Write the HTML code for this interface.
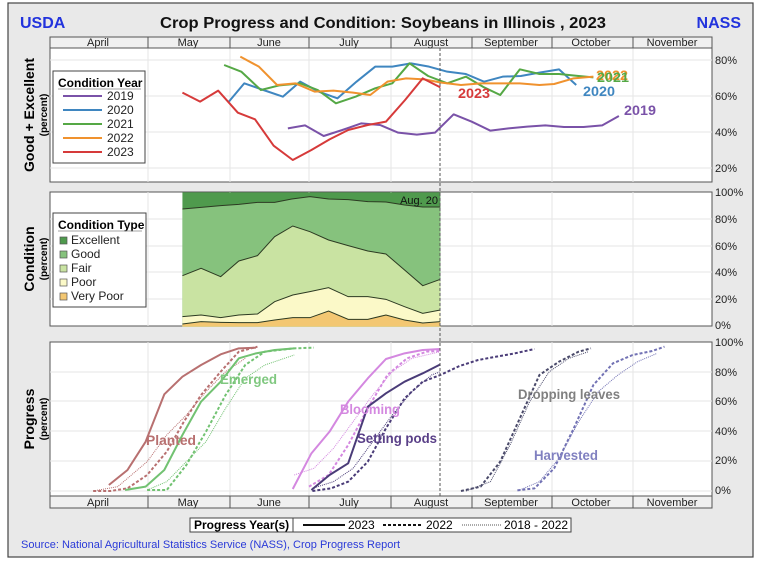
<!DOCTYPE html>
<html><head><meta charset="utf-8"><style>
html,body{margin:0;padding:0;background:#fff;}
svg{display:block;font-family:"Liberation Sans Narrow","Liberation Sans",Arial,sans-serif;}
</style></head><body>
<svg width="768" height="568" viewBox="0 0 768 568" xmlns="http://www.w3.org/2000/svg">
<rect x="8" y="3" width="745" height="554" fill="#e9e9e9" stroke="#444" stroke-width="1.2"/>
<text x="20" y="28" font-family="Liberation Sans" font-weight="bold" font-size="16" fill="#2233dd">USDA</text>
<text x="741" y="28" text-anchor="end" font-family="Liberation Sans" font-weight="bold" font-size="16" fill="#2233dd">NASS</text>
<text x="383" y="28" text-anchor="middle" font-family="Liberation Sans" font-weight="bold" font-size="16" fill="#111" textLength="446" lengthAdjust="spacingAndGlyphs">Crop Progress and Condition: Soybeans in Illinois , 2023</text>

<!-- top panel -->
<rect x="50" y="48" width="662" height="134" fill="#fff" stroke="#555"/>
<g stroke="#e6e6e6" stroke-width="1">
<line x1="50" y1="60" x2="712" y2="60"/><line x1="50" y1="96" x2="712" y2="96"/><line x1="50" y1="132" x2="712" y2="132"/><line x1="50" y1="168" x2="712" y2="168"/>
<line x1="148" y1="48" x2="148" y2="182"/><line x1="230" y1="48" x2="230" y2="182"/><line x1="309" y1="48" x2="309" y2="182"/><line x1="391" y1="48" x2="391" y2="182"/><line x1="472" y1="48" x2="472" y2="182"/><line x1="552" y1="48" x2="552" y2="182"/><line x1="633" y1="48" x2="633" y2="182"/>
</g>
<rect x="50" y="37" width="662" height="11" fill="#f0f0f0" stroke="#555"/>
<g stroke="#555"><line x1="148" y1="37" x2="148" y2="48"/><line x1="230" y1="37" x2="230" y2="48"/><line x1="309" y1="37" x2="309" y2="48"/><line x1="391" y1="37" x2="391" y2="48"/><line x1="472" y1="37" x2="472" y2="48"/><line x1="552" y1="37" x2="552" y2="48"/><line x1="633" y1="37" x2="633" y2="48"/></g>
<g font-size="11" fill="#222" text-anchor="middle">
<text x="98" y="46">April</text><text x="188" y="46">May</text><text x="269" y="46">June</text><text x="349" y="46">July</text><text x="431" y="46">August</text><text x="511" y="46">September</text><text x="591" y="46">October</text><text x="672" y="46">November</text>
</g>
<g font-size="11" fill="#222">
<text x="715" y="64">80%</text><text x="715" y="100">60%</text><text x="715" y="136">40%</text><text x="715" y="172">20%</text>
<text x="715" y="196">100%</text><text x="715" y="223">80%</text><text x="715" y="250">60%</text><text x="715" y="276">40%</text><text x="715" y="303">20%</text><text x="715" y="329">0%</text>
<text x="715" y="346">100%</text><text x="715" y="376">80%</text><text x="715" y="405">60%</text><text x="715" y="435">40%</text><text x="715" y="464">20%</text><text x="715" y="494">0%</text>
</g>
<g transform="scale(0.4904,0.33333)" fill="none" stroke-width="2" stroke-linejoin="round">
<polyline vector-effect="non-scaling-stroke" stroke="#7a52a8" points="587,385 622,376 660,408 698,390 737,370 775,375 812,398 850,404 887,398 925,343 962,365 1000,392 1037,385 1075,380 1112,376 1150,381 1190,381 1228,376 1262,348"/>
<polyline vector-effect="non-scaling-stroke" stroke="#3f86c0" points="465,308 498,250 537,270 577,290 612,245 650,275 688,295 727,245 765,200 800,200 838,190 875,200 912,215 950,222 987,245 1025,230 1062,228 1100,218 1140,208 1175,255"/>
<polyline vector-effect="non-scaling-stroke" stroke="#55a845" points="457,195 492,215 532,270 570,256 612,250 648,270 685,310 725,290 765,265 800,250 835,190 873,228 912,250 950,230 987,262 1020,285 1060,208 1100,222 1140,222 1180,228 1210,232"/>
<polyline vector-effect="non-scaling-stroke" stroke="#f0922e" points="490,170 528,200 565,255 602,250 642,275 680,272 720,278 755,285 790,245 828,235 865,238 900,248 940,255 980,250 1020,250 1060,250 1100,255 1130,252 1170,235 1210,230"/>
<polyline vector-effect="non-scaling-stroke" stroke="#d63a3a" points="372,278 408,305 445,272 485,338 520,358 558,437 597,480 635,450 672,418 710,390 750,375 787,365 826,300 862,235 898,262"/>
</g>
<g font-weight="bold" font-size="14">
<text x="458" y="98" fill="#d63a3a" textLength="32" lengthAdjust="spacingAndGlyphs">2023</text>
<text x="583" y="96" fill="#3f86c0" textLength="32" lengthAdjust="spacingAndGlyphs">2020</text>
<text x="624" y="115" fill="#7a52a8" textLength="32" lengthAdjust="spacingAndGlyphs">2019</text>
<text x="596" y="80" fill="#f0922e" textLength="32" lengthAdjust="spacingAndGlyphs">2022</text>
<text x="597" y="82" fill="#55a845" textLength="32" lengthAdjust="spacingAndGlyphs">2021</text>
</g>
<rect x="53" y="71" width="92" height="92" fill="#fff" stroke="#444"/>
<text x="58" y="87" font-size="12" font-weight="bold">Condition Year</text>
<line x1="58" y1="89" x2="141" y2="89" stroke="#888" stroke-width="0.7"/>
<g stroke-width="2"><line x1="63" y1="96" x2="102" y2="96" stroke="#7a52a8"/><line x1="63" y1="110" x2="102" y2="110" stroke="#3f86c0"/><line x1="63" y1="124" x2="102" y2="124" stroke="#55a845"/><line x1="63" y1="138" x2="102" y2="138" stroke="#f0922e"/><line x1="63" y1="152" x2="102" y2="152" stroke="#d63a3a"/></g>
<g font-size="12" fill="#222"><text x="107" y="100">2019</text><text x="107" y="114">2020</text><text x="107" y="128">2021</text><text x="107" y="142">2022</text><text x="107" y="156">2023</text></g>
<text transform="translate(34,115) rotate(-90)" text-anchor="middle" font-family="Liberation Sans" font-weight="bold" font-size="14">Good + Excellent</text>
<text transform="translate(47,115) rotate(-90)" text-anchor="middle" font-family="Liberation Sans" font-weight="bold" font-size="10">(percent)</text>

<!-- middle panel -->
<rect x="50" y="192" width="662" height="134" fill="#fff" stroke="#555"/>
<g stroke="#e6e6e6"><line x1="50" y1="219" x2="712" y2="219"/><line x1="50" y1="246" x2="712" y2="246"/><line x1="50" y1="272" x2="712" y2="272"/><line x1="50" y1="299" x2="712" y2="299"/>
<line x1="148" y1="192" x2="148" y2="326"/><line x1="230" y1="192" x2="230" y2="326"/><line x1="309" y1="192" x2="309" y2="326"/><line x1="391" y1="192" x2="391" y2="326"/><line x1="472" y1="192" x2="472" y2="326"/><line x1="552" y1="192" x2="552" y2="326"/><line x1="633" y1="192" x2="633" y2="326"/></g>
<g transform="translate(0,185) scale(0.4904,0.33333)">
<rect x="372" y="22" width="526" height="403" fill="#4f9a4d"/>
<polygon fill="#86c27d" points="372,72 410,67 450,62 487,58 525,52 560,52 595,42 632,35 670,42 710,44 750,50 787,51 825,60 862,66 898,66 898,425 372,425"/>
<polygon fill="#c9e3a2" points="372,272 410,250 450,275 487,228 525,212 560,155 597,123 632,140 670,165 710,182 750,198 787,207 825,255 862,302 898,283 898,425 372,425"/>
<polygon fill="#fbf9c8" points="372,395 410,390 450,398 487,390 525,387 560,350 597,330 632,320 670,308 710,335 750,335 787,343 825,365 862,385 898,375 898,425 372,425"/>
<polygon fill="#f3c772" points="372,417 410,410 450,412 487,413 525,413 560,405 597,398 632,398 670,378 710,403 750,403 787,390 825,405 862,414 898,410 898,425 372,425"/>
<g fill="none" stroke="#2c3a22" stroke-width="1">
<polyline vector-effect="non-scaling-stroke" points="372,72 410,67 450,62 487,58 525,52 560,52 595,42 632,35 670,42 710,44 750,50 787,51 825,60 862,66 898,66"/>
<polyline vector-effect="non-scaling-stroke" points="372,272 410,250 450,275 487,228 525,212 560,155 597,123 632,140 670,165 710,182 750,198 787,207 825,255 862,302 898,283"/>
<polyline vector-effect="non-scaling-stroke" points="372,395 410,390 450,398 487,390 525,387 560,350 597,330 632,320 670,308 710,335 750,335 787,343 825,365 862,385 898,375"/>
<polyline vector-effect="non-scaling-stroke" points="372,417 410,410 450,412 487,413 525,413 560,405 597,398 632,398 670,378 710,403 750,403 787,390 825,405 862,414 898,410"/>
</g></g>
<text x="438" y="204" text-anchor="end" font-size="11" fill="#111">Aug. 20</text>
<rect x="53" y="213" width="93" height="94" fill="#fff" stroke="#444"/>
<text x="58" y="229" font-size="12" font-weight="bold">Condition Type</text>
<line x1="58" y1="231" x2="142" y2="231" stroke="#888" stroke-width="0.7"/>
<g stroke="#555" stroke-width="0.7"><rect x="60" y="237" width="7" height="7" fill="#4f9a4d"/><rect x="60" y="251" width="7" height="7" fill="#86c27d"/><rect x="60" y="265" width="7" height="7" fill="#c9e3a2"/><rect x="60" y="279" width="7" height="7" fill="#fbf9c8"/><rect x="60" y="293" width="7" height="7" fill="#f3c772"/></g>
<g font-size="12" fill="#222"><text x="71" y="244">Excellent</text><text x="71" y="258">Good</text><text x="71" y="272">Fair</text><text x="71" y="286">Poor</text><text x="71" y="300">Very Poor</text></g>
<text transform="translate(34,259) rotate(-90)" text-anchor="middle" font-family="Liberation Sans" font-weight="bold" font-size="14">Condition</text>
<text transform="translate(47,259) rotate(-90)" text-anchor="middle" font-family="Liberation Sans" font-weight="bold" font-size="10">(percent)</text>

<!-- bottom panel -->
<rect x="50" y="342" width="662" height="154" fill="#fff" stroke="#555"/>
<g stroke="#e6e6e6"><line x1="50" y1="372" x2="712" y2="372"/><line x1="50" y1="401" x2="712" y2="401"/><line x1="50" y1="431" x2="712" y2="431"/><line x1="50" y1="461" x2="712" y2="461"/><line x1="50" y1="491" x2="712" y2="491"/>
<line x1="148" y1="342" x2="148" y2="496"/><line x1="230" y1="342" x2="230" y2="496"/><line x1="309" y1="342" x2="309" y2="496"/><line x1="391" y1="342" x2="391" y2="496"/><line x1="472" y1="342" x2="472" y2="496"/><line x1="552" y1="342" x2="552" y2="496"/><line x1="633" y1="342" x2="633" y2="496"/></g>
<g transform="translate(0,335) scale(0.4904,0.33333)" fill="none" stroke-linejoin="round">
<g stroke="#b87070">
<polyline vector-effect="non-scaling-stroke" stroke-width="1" stroke-dasharray="1 1" points="190,468 240,455 300,380 340,300 380,240 420,170 460,110 500,70"/>
<polyline vector-effect="non-scaling-stroke" stroke-width="2" stroke-dasharray="3 2" points="190,468 225,468 260,460 300,420 340,350 375,260 410,180 450,110 487,50 525,35"/>
<polyline vector-effect="non-scaling-stroke" stroke-width="2" points="222,450 260,405 297,320 335,178 372,125 410,90 450,58 487,40 522,38"/>
</g>
<g stroke="#72c272">
<polyline vector-effect="non-scaling-stroke" stroke-width="1" stroke-dasharray="1 1" points="300,465 340,440 380,380 420,320 460,220 500,130 540,90 600,60"/>
<polyline vector-effect="non-scaling-stroke" stroke-width="2" stroke-dasharray="3 2" points="300,465 340,465 380,390 420,290 460,180 500,90 540,50 600,40 640,38"/>
<polyline vector-effect="non-scaling-stroke" stroke-width="2" points="255,465 297,455 335,405 372,300 410,200 450,140 487,70 522,55 560,45 600,40"/>
</g>
<g stroke="#d488e0">
<polyline vector-effect="non-scaling-stroke" stroke-width="1" stroke-dasharray="1 1" points="600,420 640,400 680,340 720,260 760,180 800,110 840,70 898,50"/>
<polyline vector-effect="non-scaling-stroke" stroke-width="2" stroke-dasharray="3 2" points="630,455 670,420 710,330 750,220 790,120 830,70 870,50 898,48"/>
<polyline vector-effect="non-scaling-stroke" stroke-width="2" points="597,462 635,355 672,290 710,200 750,130 787,72 825,55 862,45 898,42"/>
</g>
<g stroke="#4a3c78">
<polyline vector-effect="non-scaling-stroke" stroke-width="1" stroke-dasharray="1 1" points="637,460 680,440 720,400 760,320 800,240 840,170 880,120 898,110"/>
<polyline vector-effect="non-scaling-stroke" stroke-width="2" stroke-dasharray="3 2" points="637,468 675,460 710,440 750,380 787,280 825,190 862,140 898,120 937,93 975,75 1012,65 1050,55 1090,42"/>
<polyline vector-effect="non-scaling-stroke" stroke-width="2" points="635,465 672,420 710,385 750,215 787,175 825,140 862,115 898,88"/>
</g>
<g stroke="#4a4a6a">
<polyline vector-effect="non-scaling-stroke" stroke-width="1" stroke-dasharray="1 1" points="950,468 1000,440 1040,330 1080,200 1120,110 1160,70 1200,50"/>
<polyline vector-effect="non-scaling-stroke" stroke-width="2" stroke-dasharray="3 2" points="940,468 980,455 1020,380 1060,250 1100,120 1140,80 1180,50 1205,40"/>
</g>
<g stroke="#7272b4">
<polyline vector-effect="non-scaling-stroke" stroke-width="1" stroke-dasharray="1 1" points="1060,465 1100,440 1140,370 1180,260 1220,170 1260,120 1300,80 1340,55"/>
<polyline vector-effect="non-scaling-stroke" stroke-width="2" stroke-dasharray="3 2" points="1055,466 1090,460 1130,400 1170,280 1210,150 1250,85 1290,60 1330,48 1355,35"/>
</g>
</g>
<g font-weight="bold" font-size="14">
<text x="146" y="445" fill="#b87070" textLength="50" lengthAdjust="spacingAndGlyphs">Planted</text>
<text x="220" y="384" fill="#80c880" textLength="57" lengthAdjust="spacingAndGlyphs">Emerged</text>
<text x="340" y="414" fill="#d488e0" textLength="60" lengthAdjust="spacingAndGlyphs">Blooming</text>
<text x="357" y="443" fill="#5a4088" textLength="80" lengthAdjust="spacingAndGlyphs">Setting pods</text>
<text x="518" y="399" fill="#808080" textLength="102" lengthAdjust="spacingAndGlyphs">Dropping leaves</text>
<text x="534" y="460" fill="#8080c0" textLength="64" lengthAdjust="spacingAndGlyphs">Harvested</text>
</g>
<rect x="50" y="496" width="662" height="12" fill="#f0f0f0" stroke="#555"/>
<g stroke="#555"><line x1="148" y1="496" x2="148" y2="508"/><line x1="230" y1="496" x2="230" y2="508"/><line x1="309" y1="496" x2="309" y2="508"/><line x1="391" y1="496" x2="391" y2="508"/><line x1="472" y1="496" x2="472" y2="508"/><line x1="552" y1="496" x2="552" y2="508"/><line x1="633" y1="496" x2="633" y2="508"/></g>
<g font-size="11" fill="#222" text-anchor="middle">
<text x="98" y="506">April</text><text x="188" y="506">May</text><text x="269" y="506">June</text><text x="349" y="506">July</text><text x="431" y="506">August</text><text x="511" y="506">September</text><text x="591" y="506">October</text><text x="672" y="506">November</text>
</g>
<text transform="translate(34,419) rotate(-90)" text-anchor="middle" font-family="Liberation Sans" font-weight="bold" font-size="14">Progress</text>
<text transform="translate(47,419) rotate(-90)" text-anchor="middle" font-family="Liberation Sans" font-weight="bold" font-size="10">(percent)</text>

<line x1="440" y1="48" x2="440" y2="496" stroke="#555" stroke-width="1" stroke-dasharray="3 2"/>

<rect x="190" y="518" width="381" height="14" fill="#fff" stroke="#444"/>
<line x1="293" y1="518" x2="293" y2="532" stroke="#444"/>
<text x="194" y="529" font-size="12" font-weight="bold">Progress Year(s)</text>
<line x1="303" y1="525" x2="345" y2="525" stroke="#111" stroke-width="2"/>
<text x="348" y="529" font-size="12">2023</text>
<line x1="383" y1="525" x2="423" y2="525" stroke="#111" stroke-width="2" stroke-dasharray="3 2"/>
<text x="426" y="529" font-size="12">2022</text>
<line x1="462" y1="525" x2="501" y2="525" stroke="#555" stroke-width="1" stroke-dasharray="1 1"/>
<text x="504" y="529" font-size="12">2018 - 2022</text>
<text x="21" y="548" font-size="11" fill="#2a3ad8">Source: National Agricultural Statistics Service (NASS), Crop Progress Report</text>
</svg>
</body></html>
